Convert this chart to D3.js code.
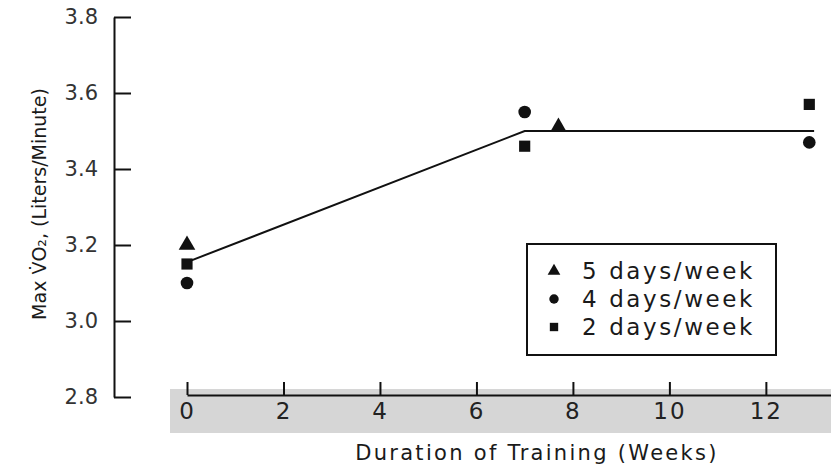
<!DOCTYPE html>
<meta charset="utf-8">
<style>
    body { margin: 0; background: #fff; }
    text { font-family: "DejaVu Sans", "Liberation Sans", Arial, sans-serif; fill: #1a1a1a; }
    .axis path, .axis line { stroke: #111; stroke-width: 2px; }
</style>
<body>
<div id="chart"></div>
<script src="https://d3js.org/d3.v7.min.js"></script>
<script>
    // values
    var seriesNames = ["5 days/week", "4 days/week", "2 days/week"];
    var weeks5 = [0, 7.7];
    var vo5 = [3.20, 3.51];
    var weeks4 = [0, 7, 12.9];
    var vo4 = [3.10, 3.55, 3.47];
    var weeks2 = [0, 7, 12.9];
    var vo2 = [3.15, 3.46, 3.57];
    var fitWeeks = [0, 7, 13];
    var fitVO = [3.155, 3.50, 3.50];
    var xTicks = [0, 2, 4, 6, 8, 10, 12];
    var yTicks = [2.8, 3.0, 3.2, 3.4, 3.6, 3.8];

    var width = 831,
        height = 467;

    var svg = d3.select("#chart").append("svg")
        .attr("width", width)
        .attr("height", height);

    var x = d3.scaleLinear().domain([0, 13.35]).range([187, 831]);
    var y = d3.scaleLinear().domain([2.8, 3.8]).range([397, 17]);

    // grey band behind the week labels (scan artefact)
    svg.append("rect")
        .attr("x", 170).attr("y", 389)
        .attr("width", 661).attr("height", 44)
        .attr("fill", "#d6d6d6");

    // y axis
    svg.append("g")
        .attr("class", "axis")
        .attr("transform", "translate(114,0)")
        .call(d3.axisLeft(y).tickValues(yTicks)
            .tickFormat(d3.format(".1f"))
            .tickSizeInner(-17).tickSizeOuter(0).tickPadding(16))
        .selectAll("text")
        .style("font-size", "21px")
        .style("fill", "#333");

    // x axis
    svg.append("g")
        .attr("class", "axis")
        .attr("transform", "translate(0,395)")
        .call(d3.axisBottom(x).tickValues(xTicks)
            .tickFormat(d3.format("d"))
            .tickSizeInner(-13).tickSizeOuter(0).tickPadding(8))
        .selectAll("text")
        .style("font-size", "23px")
        .style("letter-spacing", "2px")
        .style("fill", "#222");

    svg.append("text")
        .attr("x", 537).attr("y", 460)
        .attr("text-anchor", "middle")
        .style("font-size", "21px")
        .style("letter-spacing", "2.3px")
        .text("Duration of Training (Weeks)");

    svg.append("text")
        .attr("transform", "translate(46,204) rotate(-90)")
        .attr("text-anchor", "middle")
        .style("font-size", "19px")
        .text("Max V\u0307O\u2082, (Liters/Minute)");

    // fitted line
    var line = d3.line()
        .x(function(d) { return x(d[0]); })
        .y(function(d) { return y(d[1]); });

    svg.append("path")
        .attr("d", line(d3.zip(fitWeeks, fitVO)))
        .attr("fill", "none")
        .attr("stroke", "#111")
        .attr("stroke-width", 2);

    var tri = d3.symbol().type(d3.symbolTriangle).size(120);
    var cir = d3.symbol().type(d3.symbolCircle).size(125);
    var sq = d3.symbol().type(d3.symbolSquare).size(125);

    function drawSeries(ws, vs, sym) {
        svg.append("g").selectAll("path")
            .data(d3.zip(ws, vs))
            .enter().append("path")
            .attr("d", sym)
            .attr("transform", function(d) {
                return "translate(" + x(d[0]) + "," + y(d[1]) + ")";
            })
            .attr("fill", "#111");
    }
    drawSeries(weeks5, vo5, tri);
    drawSeries(weeks4, vo4, cir);
    drawSeries(weeks2, vo2, sq);

    // legend
    var legend = svg.append("g").attr("transform", "translate(527,244)");
    legend.append("rect")
        .attr("width", 249).attr("height", 111)
        .attr("fill", "none")
        .attr("stroke", "#111")
        .attr("stroke-width", 2);
    var legendSyms = [
        d3.symbol().type(d3.symbolTriangle).size(70),
        d3.symbol().type(d3.symbolCircle).size(70),
        d3.symbol().type(d3.symbolSquare).size(70)
    ];
    seriesNames.forEach(function(name, i) {
        var row = legend.append("g").attr("transform", "translate(0," + (27 + i * 28) + ")");
        row.append("path")
            .attr("d", legendSyms[i])
            .attr("transform", "translate(27,0)")
            .attr("fill", "#111");
        row.append("text")
            .attr("x", 55).attr("dy", "0.35em")
            .style("font-size", "23px")
            .style("letter-spacing", "2.6px")
            .text(name);
    });
</script>
</body>
</html>
